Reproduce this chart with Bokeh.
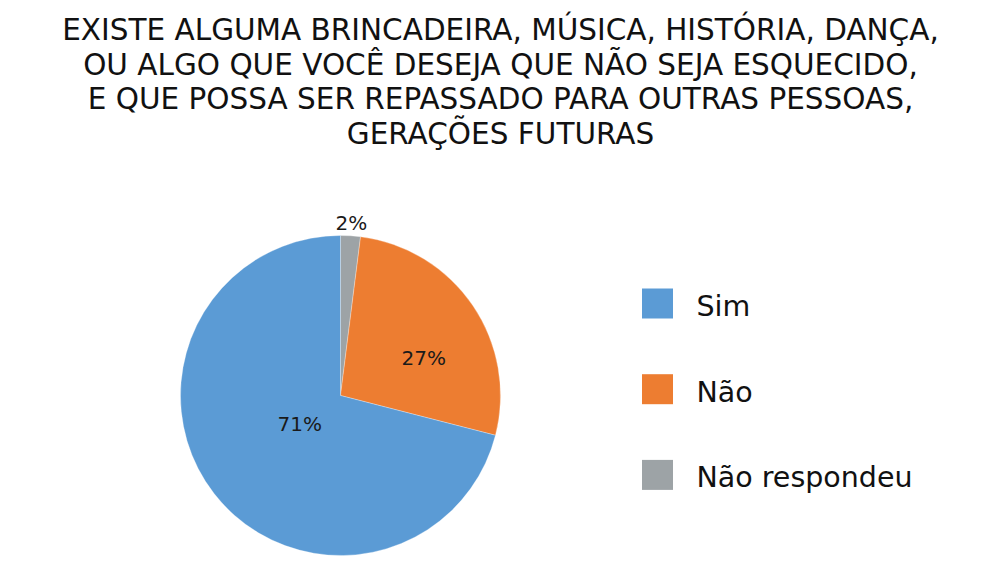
import numpy as np
from bokeh.plotting import figure
from bokeh.models import ColumnDataSource, Range1d
from bokeh.core.properties import value
from bokeh.embed import file_html
from bokeh.resources import INLINE

title_lines = [
    "EXISTE ALGUMA BRINCADEIRA, MÚSICA, HISTÓRIA, DANÇA,",
    "OU ALGO QUE VOCÊ DESEJA QUE NÃO SEJA ESQUECIDO,",
    "E QUE POSSA SER REPASSADO PARA OUTRAS PESSOAS,",
    "GERAÇÕES FUTURAS",
]
categories = ["Sim", "Não", "Não respondeu"]
percents = [71, 27, 2]
colors = ["#5B9BD5", "#ED7D31", "#9DA3A6"]

W, H = 1000, 567
FONT = "DejaVu Sans"

p = figure(width=W, height=H, output_backend="svg", toolbar_location=None,
           x_range=Range1d(0, W), y_range=Range1d(H, 0), min_border=0)
p.axis.visible = False
p.grid.visible = False
p.outline_line_color = None

# Pie geometry (layout)
cx, cy, r = 340, 395, 160
vals = np.array(percents, dtype=float)
frac = vals / vals.sum()
# clockwise from 12 o'clock: Não respondeu, Não, Sim
order = [2, 1, 0]
start = np.pi / 2
starts, ends, mids, cols = [], [], [], []
for i in order:
    sweep = 2 * np.pi * frac[i]
    a0 = start
    a1 = start - sweep
    starts.append(a0)
    ends.append(a1)
    mids.append((a0 + a1) / 2)
    cols.append(colors[i])
    start = a1

src = ColumnDataSource(dict(
    x=[cx] * 3, y=[cy] * 3,
    start=ends, end=starts,
    color=cols,
))
p.wedge(x="x", y="y", radius=r, start_angle="start", end_angle="end",
        direction="anticlock", fill_color="color", line_color="white",
        line_width=0.5, line_alpha=0.6, source=src)

# Percentage labels (label placement: radius factor, angle offset in degrees)
lab_place = {2: (1.08, 0.0), 1: (0.57, -10.0), 0: (0.31, -3.0)}
lx, ly, lt = [], [], []
for k, i in enumerate(order):
    fr, off = lab_place[i]
    m = mids[k] + np.radians(off)
    rr = r * fr
    lx.append(cx + rr * np.cos(m))
    ly.append(cy - rr * np.sin(m))
    lt.append(f"{percents[i]}%")
p.text(x=lx, y=ly, text=lt, text_font=value(FONT), text_font_size="20px",
       text_align="center", text_baseline="middle", text_color="#1a1a1a")

# Title
ty0, tdy = 29.5, 34.5
p.text(x=[500] * 4, y=[ty0 + tdy * i for i in range(4)], text=title_lines,
       text_font=value(FONT), text_font_size="29.5px", text_align="center",
       text_baseline="middle", text_color="#111111")

# Legend
sq_y0, leg_dy = 303, 85.7
p.rect(x=[657] * 3, y=[sq_y0 + leg_dy * i for i in range(3)], width=31,
       height=30, fill_color=colors, line_color=None)
p.text(x=[696] * 3, y=[306 + leg_dy * i for i in range(3)], text=categories,
       text_font=value(FONT), text_font_size="28.5px", text_align="left",
       text_baseline="middle", text_color="#111111")

open("out.html", "w").write(file_html(p, INLINE))
